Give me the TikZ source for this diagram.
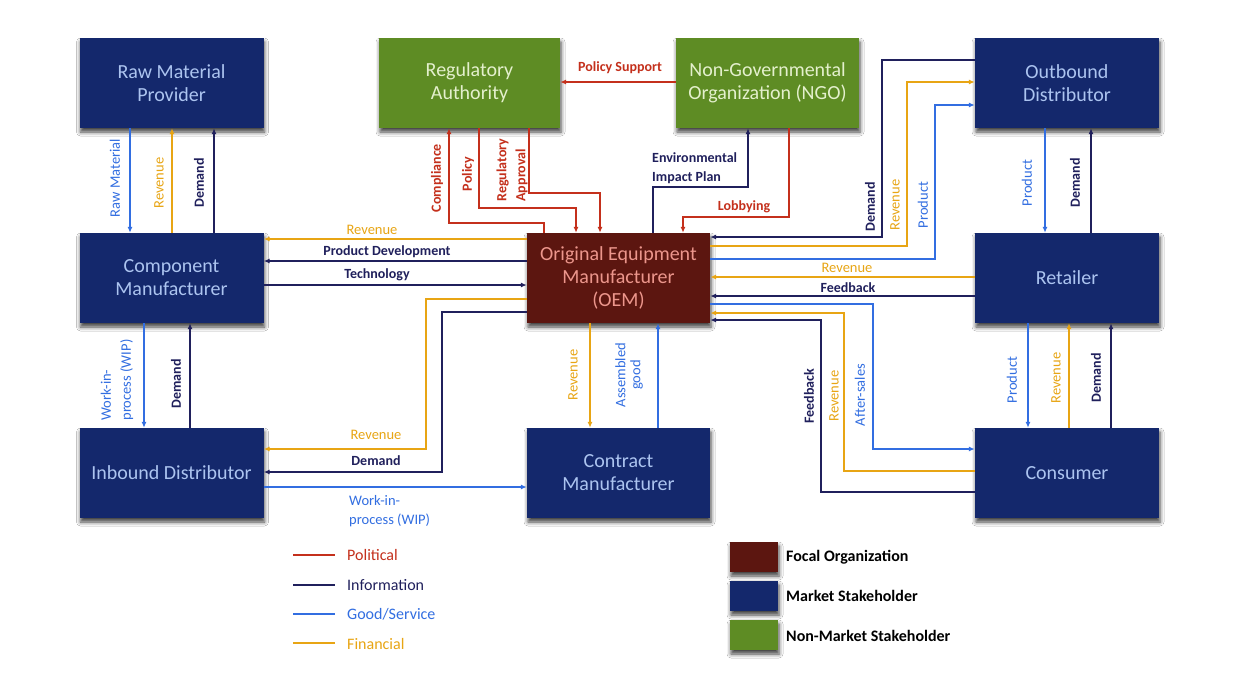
\documentclass[tikz,border=0pt]{standalone}
\usepackage{fontspec}
\setmainfont{Carlito}
\usetikzlibrary{arrows.meta,shadows.blur}
\definecolor{navybox}{RGB}{20,40,108}
\definecolor{greenbox}{RGB}{94,140,36}
\definecolor{oembox}{RGB}{92,22,16}
\definecolor{navytext}{RGB}{172,196,240}
\definecolor{greentext}{RGB}{228,240,205}
\definecolor{oemtext}{RGB}{236,150,140}
\definecolor{polc}{RGB}{196,48,28}
\definecolor{infc}{RGB}{32,32,92}
\definecolor{gdc}{RGB}{50,110,225}
\definecolor{finc}{RGB}{232,165,20}
\tikzset{
  box/.style={draw=none, minimum width=184pt, minimum height=90pt, inner sep=0pt, align=center,
    font=\fontsize{20}{23}\selectfont,
    blur shadow={shadow xshift=1pt, shadow yshift=-4pt, shadow blur radius=4pt, shadow opacity=75}},
  mkt/.style={box, fill=navybox, text=navytext},
  nonmkt/.style={box, fill=greenbox, text=greentext},
  focal/.style={box, fill=oembox, text=oemtext},
  conn/.style={line width=1.5pt},
  polline/.style={conn, draw=polc},
  infline/.style={conn, draw=infc},
  goodline/.style={conn, draw=gdc},
  finline/.style={conn, draw=finc},
  arr/.style={-{Latex[length=6pt,width=5pt]}},
  lbl/.style={inner sep=0pt, font=\fontsize{14.5}{18}\selectfont},
  lpol/.style={lbl, text=polc, font=\bfseries\fontsize{14}{18}\selectfont},
  linf/.style={lbl, text=infc, font=\bfseries\fontsize{14}{18}\selectfont},
  lgood/.style={lbl, text=gdc},
  lfin/.style={lbl, text=finc},
  vert/.style={rotate=90},
  legtxt/.style={inner sep=0pt, anchor=west, font=\fontsize{16}{19}\selectfont},
  swatch/.style={draw=none, minimum width=48pt, minimum height=30pt, inner sep=0pt,
    blur shadow={shadow xshift=1pt, shadow yshift=-4pt, shadow blur radius=4pt, shadow opacity=75}},
}
\begin{document}
\begin{tikzpicture}[x=1pt,y=-1pt]
\useasboundingbox[fill=white] (0,0) rectangle (1245,675);
% boxes
\node[mkt] (raw) at (171.5,83) {Raw Material\\Provider};
\node[mkt] (comp) at (171.5,278) {Component\\Manufacturer};
\node[mkt] (inb) at (171.5,473) {Inbound Distributor};
\node[nonmkt, minimum width=181pt] (reg) at (469.5,83) {Regulatory\\Authority};
\node[nonmkt, minimum width=183pt] (ngo) at (767.5,83) {Non-Governmental\\Organization (NGO)};
\node[mkt] (outb) at (1067,83) {Outbound\\Distributor};
\node[mkt] (ret) at (1067,278) {Retailer};
\node[focal, minimum width=183pt] (oem) at (618.5,278) {Original Equipment\\Manufacturer\\(OEM)};
\node[mkt, minimum width=183pt] (cont) at (618.5,473) {Contract\\Manufacturer};
\node[mkt] (cons) at (1067,473) {Consumer};

% raw - component
\draw[goodline,arr] (130,0 |- raw.south) -- (130,0 |- comp.north);
\draw[finline,arr] (172,0 |- comp.north) -- (172,0 |- raw.south);
\draw[infline,arr] (214,0 |- comp.north) -- (214,0 |- raw.south);
\node[lgood,vert] (l1) at (115,178) {Raw Material};
\node[lfin,vert] (l2) at (159,183) {Revenue};
\node[linf,vert] (l3) at (199,183) {Demand};

% component - inbound
\draw[goodline,arr] (144,0 |- comp.south) -- (144,0 |- inb.north);
\draw[infline,arr] (190,0 |- inb.north) -- (190,0 |- comp.south);
\node[lgood,vert,align=left,font=\fontsize{14.5}{20}\selectfont] (l4) at (117,380) {Work-in-\\process (WIP)};
\node[linf,vert] (l5) at (176,384) {Demand};

% component - OEM
\draw[finline,arr] (oem.west |- 0,239) -- (comp.east |- 0,239);
\draw[infline,arr] (oem.west |- 0,261) -- (comp.east |- 0,261);
\draw[infline,arr] (comp.east |- 0,285) -- (oem.west |- 0,285);
\node[lfin] (l6) at (372,230) {Revenue};
\node[linf] (l7) at (387,252) {Product Development};
\node[linf] (l8) at (377,275) {Technology};

% OEM - inbound, inbound - contract
\draw[finline,arr] (oem.west |- 0,299) -| (426,449) -- (inb.east |- 0,449);
\draw[infline,arr] (oem.west |- 0,312) -| (442,472) -- (inb.east |- 0,472);
\draw[goodline,arr] (inb.east |- 0,487) -- (cont.west |- 0,487);
\node[lfin] (l9) at (376,435) {Revenue};
\node[linf] (l10) at (376,461) {Demand};
\node[lgood,anchor=west,align=left,font=\fontsize{14.5}{19}\selectfont] (l11) at (349,511) {Work-in-\\process (WIP)};

% regulatory - OEM
\draw[polline,arr] (544,0 |- oem.north) |- (449,223) -- (449,0 |- reg.south);
\draw[polline,arr] (479,0 |- reg.south) |- (576,208) -- (576,0 |- oem.north);
\draw[polline,arr] (529,0 |- reg.south) |- (600,193) -- (600,0 |- oem.north);
\node[lpol,vert] (l12) at (437,178) {Compliance};
\node[lpol,vert] (l13) at (468,174) {Policy};
\node[lpol,vert,align=left,font=\bfseries\fontsize{14}{19}\selectfont] (l14) at (512,170) {Regulatory\\Approval};

% NGO
\draw[polline,arr] (ngo.west |- 0,82) -- (reg.east |- 0,82);
\node[lpol] (l15) at (620,68) {Policy Support};
\draw[infline,arr] (653,0 |- oem.north) |- (748,187) -- (748,0 |- ngo.south);
\node[linf,anchor=west,align=left,font=\bfseries\fontsize{14}{19}\selectfont] (l16) at (652,168.5) {Environmental\\Impact Plan};
\draw[polline,arr] (789,0 |- ngo.south) |- (683,217) -- (683,0 |- oem.north);
\node[lpol] (l17) at (744,207) {Lobbying};

% outbound - OEM
\draw[infline,arr] (outb.west |- 0,60) -| (882,237) -- (oem.east |- 0,237);
\draw[finline,arr] (oem.east |- 0,246) -| (907,82) -- (outb.west |- 0,82);
\draw[goodline,arr] (oem.east |- 0,259) -| (935,105) -- (outb.west |- 0,105);
\node[linf,vert] (l18) at (870,207) {Demand};
\node[lfin,vert] (l19) at (895,205) {Revenue};
\node[lgood,vert] (l20) at (923,205) {Product};

% retailer - OEM
\draw[finline,arr] (ret.west |- 0,277) -- (oem.east |- 0,277);
\draw[infline,arr] (ret.west |- 0,296) -- (oem.east |- 0,296);
\node[lfin] (l21) at (847,268) {Revenue};
\node[linf] (l22) at (848,288) {Feedback};

% consumer - OEM
\draw[goodline,arr] (oem.east |- 0,304) -| (873,449) -- (cons.west |- 0,449);
\draw[finline,arr] (cons.west |- 0,471) -| (844,313) -- (oem.east |- 0,313);
\draw[infline,arr] (cons.west |- 0,492) -| (821,320) -- (oem.east |- 0,320);
\node[linf,vert] (l23) at (809,396) {Feedback};
\node[lfin,vert] (l24) at (834,396) {Revenue};
\node[lgood,vert] (l25) at (860,395) {After-sales};

% OEM - contract
\draw[finline,arr] (590,0 |- oem.south) -- (590,0 |- cont.north);
\draw[goodline,arr] (658,0 |- cont.north) -- (658,0 |- oem.south);
\node[lfin,vert] (l26) at (573,375) {Revenue};
\node[lgood,vert,align=center,font=\fontsize{14.5}{15}\selectfont] (l27) at (629,375) {Assembled\\good};

% outbound - retailer
\draw[goodline,arr] (1045,0 |- outb.south) -- (1045,0 |- ret.north);
\draw[infline,arr] (1091,0 |- ret.north) -- (1091,0 |- outb.south);
\node[lgood,vert] (l28) at (1027,183) {Product};
\node[linf,vert] (l29) at (1075,183) {Demand};

% retailer - consumer
\draw[goodline,arr] (1028,0 |- ret.south) -- (1028,0 |- cons.north);
\draw[finline,arr] (1069,0 |- cons.north) -- (1069,0 |- ret.south);
\draw[infline,arr] (1111,0 |- cons.north) -- (1111,0 |- ret.south);
\node[lgood,vert] (l30) at (1012,380) {Product};
\node[lfin,vert] (l31) at (1056,378) {Revenue};
\node[linf,vert] (l32) at (1096,378) {Demand};

% legend lines
\draw[polline] (293,555) -- (335,555);
\node[legtxt,text=polc] (g1) at (347,555) {Political};
\draw[infline] (293,585) -- (335,585);
\node[legtxt,text=infc] (g2) at (347,585) {Information};
\draw[goodline] (293,614) -- (335,614);
\node[legtxt,text=gdc] (g3) at (347,614) {Good/Service};
\draw[finline,line width=1.2pt] (293,643) -- (335,643);
\node[legtxt,text=finc] (g4) at (347,644) {Financial};

% legend swatches
\node[swatch,fill=oembox] (s1) at (754,557) {};
\node[legtxt,font=\bfseries\fontsize{16}{19}\selectfont] (t1) at (786,557) {Focal Organization};
\node[swatch,fill=navybox] (s2) at (754,596) {};
\node[legtxt,font=\bfseries\fontsize{16}{19}\selectfont] (t2) at (786,596) {Market Stakeholder};
\node[swatch,fill=greenbox] (s3) at (754,635) {};
\node[legtxt,font=\bfseries\fontsize{16}{19}\selectfont] (t3) at (786,636) {Non-Market Stakeholder};
\end{tikzpicture}
\end{document}
